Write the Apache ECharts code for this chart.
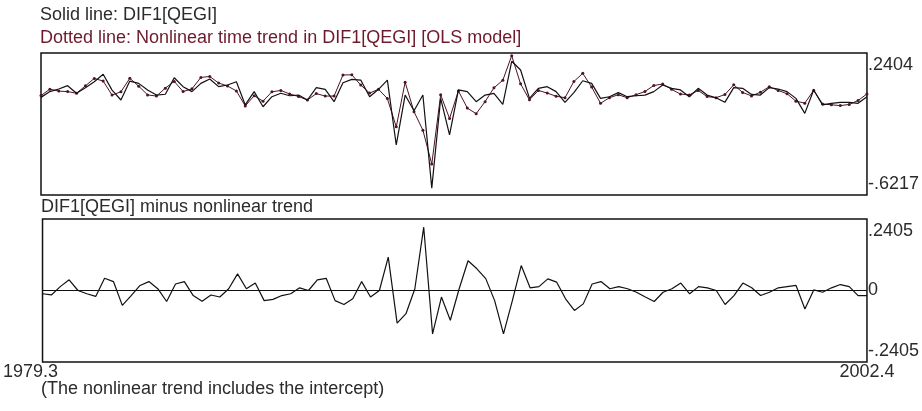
<!DOCTYPE html>
<html>
<head>
<meta charset="utf-8">
<script src="https://cdn.jsdelivr.net/npm/echarts@6/dist/echarts.min.js"></script>
<style>
html,body{margin:0;padding:0;background:#fff;}
#c{width:922px;height:411px;}
</style>
</head>
<body>
<div id="c"></div>
<script>
// Quarterly periods 1979.3 .. 2002.4
var periods = ['1979.3','1979.4',
'1980.1','1980.2','1980.3','1980.4','1981.1','1981.2','1981.3','1981.4',
'1982.1','1982.2','1982.3','1982.4','1983.1','1983.2','1983.3','1983.4',
'1984.1','1984.2','1984.3','1984.4','1985.1','1985.2','1985.3','1985.4',
'1986.1','1986.2','1986.3','1986.4','1987.1','1987.2','1987.3','1987.4',
'1988.1','1988.2','1988.3','1988.4','1989.1','1989.2','1989.3','1989.4',
'1990.1','1990.2','1990.3','1990.4','1991.1','1991.2','1991.3','1991.4',
'1992.1','1992.2','1992.3','1992.4','1993.1','1993.2','1993.3','1993.4',
'1994.1','1994.2','1994.3','1994.4','1995.1','1995.2','1995.3','1995.4',
'1996.1','1996.2','1996.3','1996.4','1997.1','1997.2','1997.3','1997.4',
'1998.1','1998.2','1998.3','1998.4','1999.1','1999.2','1999.3','1999.4',
'2000.1','2000.2','2000.3','2000.4','2001.1','2001.2','2001.3','2001.4',
'2002.1','2002.2','2002.3','2002.4'];

// DIF1[QEGI] (solid line)
var actual = [-0.029,0.006,0.022,0.042,-0.004,0.030,0.066,0.111,0.015,-0.045,
0.070,0.056,0.016,-0.015,-0.010,0.090,0.036,0.006,0.056,0.083,
0.036,0.046,0.066,-0.075,0.006,-0.086,-0.025,-0.004,-0.019,-0.015,
-0.045,0.030,0.020,-0.055,0.060,0.080,0.076,-0.025,0.020,0.076,
-0.318,-0.015,-0.110,-0.015,-0.580,-0.035,-0.257,0.016,0.006,-0.055,
-0.015,-0.005,-0.071,0.190,0.137,-0.035,0.026,0.036,0.006,-0.059,
0.000,0.072,0.056,-0.035,-0.025,0.000,-0.025,-0.019,-0.015,0.006,
0.046,0.026,0.016,-0.025,0.026,-0.015,-0.031,-0.059,0.030,0.026,
-0.011,-0.015,0.030,0.022,0.006,-0.035,-0.126,0.016,-0.075,-0.065,
-0.059,-0.059,-0.065,-0.025];

// Nonlinear time trend (dotted line)
var trend = [-0.018,0.021,0.009,0.006,-0.004,0.041,0.086,0.070,-0.015,0.005,
0.087,0.039,-0.014,-0.021,0.027,0.068,0.006,0.023,0.092,0.098,
0.058,0.040,0.010,-0.081,-0.019,-0.052,0.005,0.013,-0.008,-0.024,
-0.045,-0.006,-0.021,-0.021,0.107,0.108,0.046,-0.003,0.020,-0.036,
-0.208,0.063,-0.116,-0.228,-0.434,-0.013,-0.157,0.010,-0.094,-0.128,
-0.055,0.029,0.075,0.224,0.053,-0.044,0.013,-0.003,-0.022,-0.031,
0.067,0.117,0.034,-0.065,-0.031,-0.013,-0.031,-0.013,0.007,0.043,
0.052,0.020,-0.009,-0.014,0.013,-0.024,-0.031,-0.012,0.047,0.001,
-0.020,0.002,0.036,0.013,-0.007,-0.052,-0.064,0.014,-0.069,-0.074,
-0.079,-0.072,-0.048,-0.008];

// DIF1[QEGI] minus nonlinear trend
var residual = [-0.011,-0.015,0.013,0.036,0.000,-0.011,-0.020,0.041,0.030,-0.050,
-0.017,0.017,0.030,0.006,-0.037,0.022,0.030,-0.017,-0.036,-0.015,
-0.022,0.006,0.056,0.006,0.025,-0.034,-0.030,-0.017,-0.011,0.009,
0.000,0.036,0.041,-0.034,-0.047,-0.028,0.030,-0.022,0.000,0.112,
-0.110,-0.078,0.006,0.213,-0.146,-0.022,-0.100,0.006,0.100,0.073,
0.040,-0.034,-0.146,-0.034,0.084,0.009,0.013,0.039,0.028,-0.028,
-0.067,-0.045,0.022,0.030,0.006,0.013,0.006,-0.006,-0.022,-0.037,
-0.006,0.006,0.025,-0.011,0.013,0.009,0.000,-0.047,-0.017,0.025,
0.009,-0.017,-0.006,0.009,0.013,0.017,-0.062,0.002,-0.006,0.009,
0.020,0.013,-0.017,-0.017];

// Axis tick values / labels
var topTickValues = [-0.6217, 0.2404];
var topTickLabels = ['-.6217', '.2404'];
var botTickValues = [-0.2405, 0, 0.2405];
var botTickLabels = ['-.2405', '0', '.2405'];

var FONT = "'Liberation Sans', Arial, sans-serif";
var FS = 18;
var TXT = '#2b2b2b';
var MAROON = '#6e1a2c';
var TRENDCOL = '#4e1420';

function labelFor(values, labels) {
  return function (v) {
    var best = 0, d = Infinity;
    for (var i = 0; i < values.length; i++) {
      var dd = Math.abs(values[i] - v);
      if (dd < d) { d = dd; best = i; }
    }
    var min = Math.min.apply(null, values), max = Math.max.apply(null, values);
    var key = values[best] === max ? 't' : (values[best] === min ? 'b' : 'm');
    return '{' + key + '|' + labels[best] + '}';
  };
}
var richLab = {
  t: {fontFamily: FONT, fontSize: FS, color: TXT, padding: [25, 0, 0, 0]},
  b: {fontFamily: FONT, fontSize: FS, color: TXT, padding: [0, 0, 22, 0]},
  m: {fontFamily: FONT, fontSize: FS, color: TXT}
};
var richX = {
  l: {fontFamily: FONT, fontSize: FS, color: TXT, padding: [0, 24, 0, 0]},
  r: {fontFamily: FONT, fontSize: FS, color: TXT}
};
function ts(c) { return {fontFamily: FONT, fontSize: FS, fontWeight: 'normal', color: c}; }

var chart = echarts.init(document.getElementById('c'), null, {renderer: 'canvas'});
chart.setOption({
  animation: false,
  backgroundColor: '#ffffff',
  title: [
    {text: 'Solid line: DIF1[QEGI]', left: 40, top: 6, padding: 0, textStyle: ts(TXT)},
    {text: 'Dotted line: Nonlinear time trend in DIF1[QEGI] [OLS model]', left: 40, top: 29, padding: 0, textStyle: ts(MAROON)},
    {text: 'DIF1[QEGI] minus nonlinear trend', left: 41, top: 198, padding: 0, textStyle: ts(TXT)},
    {text: '(The nonlinear trend includes the intercept)', left: 41, top: 380, padding: 0, textStyle: ts(TXT)}
  ],
  grid: [
    {left: 41, top: 53, width: 827, height: 142, show: true, borderColor: '#111', borderWidth: 1.5, backgroundColor: '#fff'},
    {left: 41, top: 219, width: 827, height: 143, show: true, borderColor: '#111', borderWidth: 1.5, backgroundColor: '#fff'}
  ],
  xAxis: [
    {type: 'category', gridIndex: 0, data: periods, boundaryGap: false, show: false},
    {type: 'category', gridIndex: 1, data: periods, boundaryGap: false,
     axisLine: {show: false}, axisTick: {show: false}, splitLine: {show: false},
     axisLabel: {
       interval: function (idx) { return idx === 0 || idx === periods.length - 1; },
       formatter: function (v, idx) { return (idx === 0 ? '{l|' : '{r|') + v + '}'; },
       rich: richX,
       margin: 1, fontFamily: FONT, fontSize: FS, color: TXT,
       showMinLabel: true, showMaxLabel: true
     }}
  ],
  yAxis: [
    {type: 'value', gridIndex: 0, position: 'right', min: topTickValues[0], max: topTickValues[1],
     axisLine: {show: false}, axisTick: {show: false}, splitLine: {show: false},
     axisLabel: {customValues: topTickValues, margin: 1, formatter: labelFor(topTickValues, topTickLabels), rich: richLab}},
    {type: 'value', gridIndex: 1, position: 'right', min: botTickValues[0], max: botTickValues[2],
     axisLine: {show: false}, axisTick: {show: false}, splitLine: {show: false},
     axisLabel: {customValues: botTickValues, margin: 1, formatter: labelFor(botTickValues, botTickLabels), rich: richLab}}
  ],
  series: [
    {type: 'line', name: 'trend', xAxisIndex: 0, yAxisIndex: 0, data: trend,
     lineStyle: {color: TRENDCOL, width: 1}, itemStyle: {color: TRENDCOL},
     symbol: 'circle', symbolSize: 3, showSymbol: true, z: 2},
    {type: 'line', name: 'DIF1[QEGI]', xAxisIndex: 0, yAxisIndex: 0, data: actual,
     lineStyle: {color: '#111', width: 1.2}, symbol: 'none', z: 3},
    {type: 'line', name: 'residual', xAxisIndex: 1, yAxisIndex: 1, data: residual,
     lineStyle: {color: '#111', width: 1.2}, symbol: 'none', z: 3,
     markLine: {silent: true, symbol: 'none', label: {show: false},
       lineStyle: {color: '#111', width: 1.2, type: 'solid'},
       data: [{yAxis: 0}]}}
  ]
});
</script>
</body>
</html>
